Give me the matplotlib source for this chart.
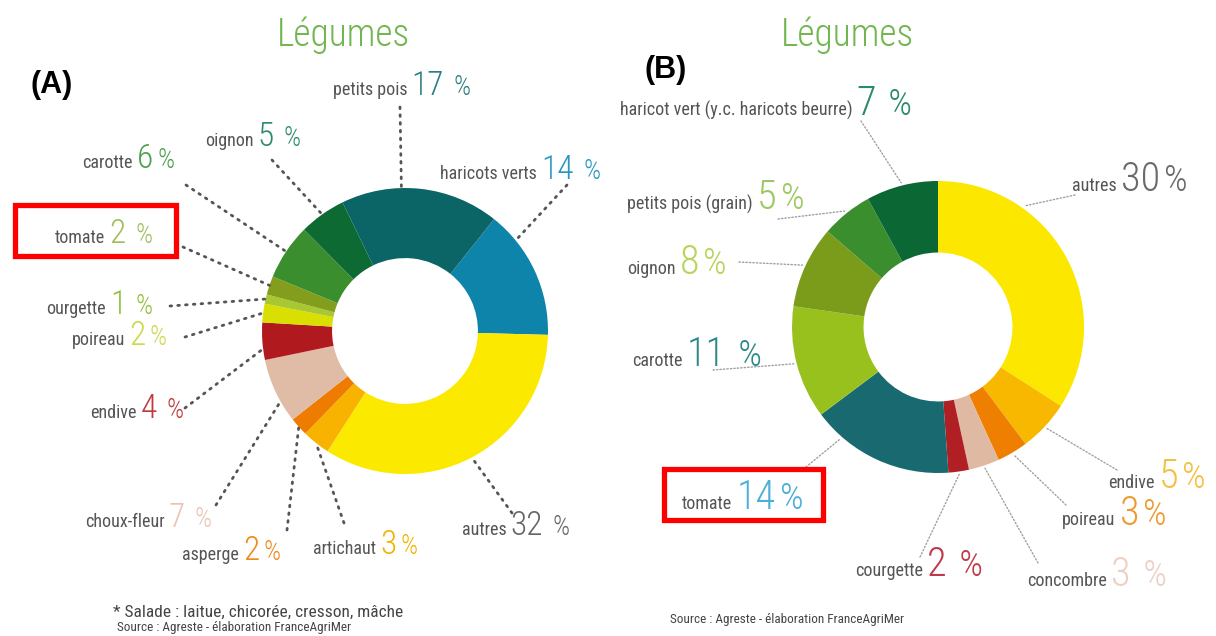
import matplotlib
matplotlib.use("Agg")
import matplotlib.pyplot as plt
from matplotlib.patches import Rectangle
from matplotlib.offsetbox import TextArea, HPacker, AnnotationBbox
import numpy as np

# ---------------- data ----------------
A_names = ["haricots verts", "autres", "artichaut", "asperge", "choux-fleur", "endive",
           "poireau", "ourgette", "tomate", "carotte", "oignon", "petits pois"]
A_values = [14, 32, 3, 2, 7, 4, 2, 1, 2, 6, 5, 17]

B_names = ["autres", "endive", "poireau", "concombre", "courgette", "tomate",
           "carotte", "oignon", "petits pois (grain)", "haricot vert (y.c. haricots beurre)"]
B_values = [30, 5, 3, 3, 2, 14, 11, 8, 5, 7]

title = "Légumes"
A_note = "* Salade : laitue, chicorée, cresson, mâche"
source = "Source : Agreste - élaboration FranceAgriMer"

# ---------------- styles / layout ----------------
W, H = 1216, 636
A_colors = ["#0f84ab", "#fbe900", "#f8b300", "#ee7c00", "#e0bca6", "#b0191e",
            "#d9df00", "#a8c832", "#839e1c", "#3a8e2e", "#0d6a33", "#0b6566"]
A_txtcol = ["#2a95bf", "#666666", "#f0b400", "#ef8a1e", "#e9c3b3", "#c0393b",
            "#cfd84a", "#8fbf3a", "#9cbf5a", "#4aa04a", "#2f8a6a", "#2b8080"]
A_gap = [1, 1, 0, 0, 1, 1, 0, 1, 1, 0, 1, 1]
A_lab = [(440, 170), (462, 526), (313, 545), (182, 551), (85, 518), (90, 409),
         (72, 336), (46, 305), (55, 234), (82, 159), (205, 137), (333, 86)]
A_line = [(567, 185), (512, 513), (344, 523), (287, 530), (216, 505), (185, 408),
          (185, 337), (170, 306), (183, 247), (186, 185), (272, 160), (400, 107)]
A_frac = [0.23, 0.5, 0.5, 0.5, 0.33, 0.3, 0.5, 0.5, 0.5, 0.5, 0.5, 0.38]
A_center, A_r = (405, 331), 143

B_colors = ["#fbe700", "#f8b800", "#ef7f00", "#dfb9a2", "#b01f24", "#196971",
            "#98c11e", "#7b9b1b", "#3b8e2d", "#0b6733"]
B_txtcol = ["#6a6a6a", "#f5c040", "#ef9a30", "#ecd0c4", "#c0394a", "#4ab0d8",
            "#2a8a8a", "#b8d45a", "#9cc860", "#2a8a6a"]
B_gap = [0, 0, 0, 1, 1, 0, 1, 0, 0, 1]
B_lab = [(1072, 180), (1108, 477), (1062, 514), (1027, 575), (855, 565), (682, 498),
         (632, 355), (627, 263), (627, 198), (620, 104)]
B_line = [(1075, 195), (1117, 470), (1066, 505), (1038, 563), (920, 557), (806, 467),
          (713, 370), (739, 262), (778, 219), (861, 121)]
B_frac = [0.29, 0.5, 0.5, 0.5, 0.5, 0.79, 0.5, 0.5, 0.5, 0.5]
B_center, B_r = (938, 327), 146

NAME_FONT = ["Roboto Condensed", "Liberation Sans", "DejaVu Sans"]
NUM_FONT = ["Roboto Condensed", "Roboto", "DejaVu Sans"]
NUM_WEIGHT = "light"

fig = plt.figure(figsize=(W / 100, H / 100), dpi=100)
ax = fig.add_axes([0, 0, 1, 1])


def Y(y):
    return H - y


def donut(values, colors, center, r, start, lines, fracs, lcolor, lw, dots, r_att):
    wedges, _ = ax.pie(values, colors=colors, startangle=start, counterclock=False,
                       radius=r, center=(center[0], Y(center[1])), frame=True,
                       wedgeprops=dict(width=r * 0.49, edgecolor="none", linewidth=0))
    for w, lp, fr in zip(wedges, lines, fracs):
        ang = np.deg2rad(w.theta2 - fr * (w.theta2 - w.theta1))
        px = center[0] + r * r_att * np.cos(ang)
        py = Y(center[1]) + r * r_att * np.sin(ang)
        ax.plot([lp[0], px], [Y(lp[1]), py], linestyle=(0, dots), color=lcolor,
                lw=lw, solid_capstyle="round", dash_capstyle="round", zorder=1)
    return wedges


def label(x, y, name, val, color, gap, numsize, pctratio, namesize=13):
    t1 = TextArea(name, textprops=dict(family=NAME_FONT, size=namesize, color="#555555"))
    t2 = TextArea(str(val), textprops=dict(family=NUM_FONT, weight=NUM_WEIGHT,
                                           size=numsize, color=color))
    t3 = TextArea((" " if gap else "") + "%", textprops=dict(family=NUM_FONT, weight=NUM_WEIGHT,
                                                             size=numsize * pctratio, color=color))
    box = HPacker(children=[t1, t2, t3], align="baseline", pad=0, sep=3)
    ab = AnnotationBbox(box, (x, Y(y)), xycoords="data", box_alignment=(0, 0.5),
                        frameon=False, pad=0)
    ax.add_artist(ab)


donut(A_values, A_colors, A_center, A_r, 51.5, A_line, A_frac, "#555555", 2.0, (0.6, 2.2), 1.0)
donut(B_values, B_colors, B_center, B_r, 90, B_line, B_frac, "#a0a0a0", 1.0, (1, 1.5), 1.02)

for nm, v, c, g, (x, y) in zip(A_names, A_values, A_txtcol, A_gap, A_lab):
    label(x, y, nm, v, c, g, 24, 0.8)
for nm, v, c, g, (x, y) in zip(B_names, B_values, B_txtcol, B_gap, B_lab):
    label(x, y, nm, v, c, g, 29, 0.92)

# titles
for x in (343, 848):
    ax.text(x, Y(35), title, family=NUM_FONT, weight=NUM_WEIGHT, size=27, color="#72b651",
            ha="center", va="center")
ax.text(30, Y(85), "(A)", family=["Liberation Sans", "DejaVu Sans"], weight="bold",
        size=22, color="black", ha="left", va="center")
ax.text(644, Y(70), "(B)", family=["Liberation Sans", "DejaVu Sans"], weight="bold",
        size=22, color="black", ha="left", va="center")

# notes
ax.text(113, Y(612), A_note, family=NAME_FONT, size=12.5, color="#444444", ha="left", va="center")
ax.text(117, Y(628), source, family=NAME_FONT, size=9.5, color="#444444", ha="left", va="center")
ax.text(670, Y(620), source, family=NAME_FONT, size=9.5, color="#444444", ha="left", va="center")

# highlight boxes
for (x0, y0, x1, y1) in [(13, 203, 178, 258), (662, 467, 825, 522)]:
    ax.add_patch(Rectangle((x0 + 2, Y(y1) + 2), x1 - x0 - 4, y1 - y0 - 4, fill=False,
                           edgecolor="#ff0000", linewidth=3.8, zorder=5))

ax.set_xlim(0, W)
ax.set_ylim(0, H)
ax.set_aspect("equal")
ax.axis("off")
fig.savefig("out.png", dpi=100, facecolor="white")
